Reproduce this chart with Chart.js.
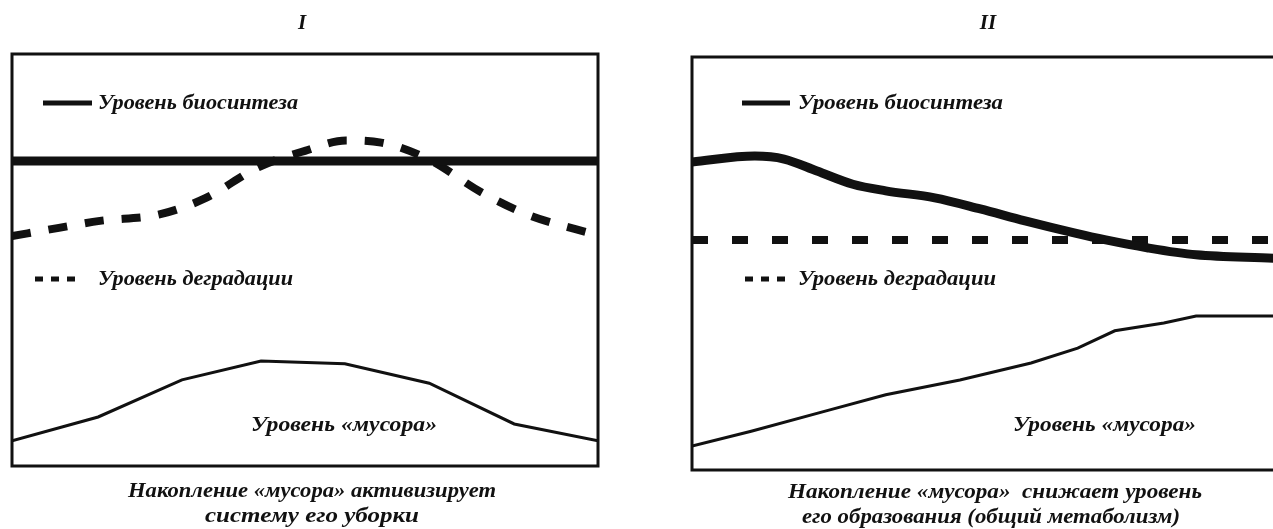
<!DOCTYPE html>
<html>
<head>
<meta charset="utf-8">
<script src="https://cdn.jsdelivr.net/npm/chart.js@4.4.0/dist/chart.umd.min.js"></script>
<style>
html, body { margin: 0; padding: 0; background: #fff; overflow: hidden; width: 1273px; height: 529px; }
#p1 { position: absolute; left: 0; top: 0; }
#p2 { position: absolute; left: 633px; top: 0; }
</style>
</head>
<body>
<canvas id="p1" width="640" height="529"></canvas>
<canvas id="p2" width="700" height="529"></canvas>
<script>
// Панель I
var bio1X = [0, 100];
var bio1Y = [74, 74];
var deg1X = [0, 8, 15, 25, 33, 42, 50, 57, 63, 71, 80, 88, 100];
var deg1Y = [55.8, 57.8, 59.5, 61, 65, 72.5, 76.5, 79, 78.5, 74.5, 66.5, 61, 56];
var trash1X = [0, 14.7, 29, 42.5, 56.8, 71.2, 85.7, 100];
var trash1Y = [6.1, 11.9, 20.9, 25.5, 24.8, 20.1, 10.2, 6.1];

// Панель II
var bio2X = [0, 10.5, 15.4, 20.9, 26.9, 32.4, 40.6, 48.2, 55.7, 63.9, 69.2, 76.1, 84.3, 97.2, 100];
var bio2Y = [74.6, 76.0, 75.3, 72.4, 69.2, 67.6, 65.9, 63.2, 60.3, 57.4, 55.7, 53.8, 52.1, 51.3, 51.1];
var deg2X = [0, 100];
var deg2Y = [55.7, 55.7];
var trash2X = [0, 9.9, 22.9, 32.4, 44.8, 56.7, 64.5, 70.7, 78.9, 84.3, 100];
var trash2Y = [5.8, 9.4, 14.5, 18.2, 21.8, 25.9, 29.5, 33.7, 35.6, 37.3, 37.3];

var labelBio = 'Уровень биосинтеза';
var labelDeg = 'Уровень деградации';
var labelTrash = 'Уровень «мусора»';

function pts(xs, ys) {
    return xs.map(function(x, i) { return { x: x, y: ys[i] }; });
}

var ink = '#111';
var fnt = 'italic bold 20px "Liberation Serif", "DejaVu Serif", serif';

// текст, растянутый по ширине (шрифт оригинала шире)
function fit(ctx, text, x, y, w, align) {
    var sx = w / ctx.measureText(text).width;
    ctx.save();
    ctx.translate(x, y);
    ctx.scale(sx, 1);
    ctx.textAlign = align;
    ctx.fillText(text, 0, 0);
    ctx.restore();
}

// рамка, легенда и подписи внутри панели
var decor = {
    id: 'decor',
    beforeDatasetsDraw: function(chart) {
        var ctx = chart.ctx, a = chart.chartArea;
        ctx.save();
        ctx.strokeStyle = ink;
        ctx.lineWidth = 3;
        ctx.strokeRect(a.left, a.top, a.right - a.left, a.bottom - a.top);
        ctx.restore();
    },
    afterDraw: function(chart, args, o) {
        var ctx = chart.ctx, a = chart.chartArea;
        var off = chart.canvas.offsetLeft;
        ctx.save();
        ctx.fillStyle = ink;
        ctx.strokeStyle = ink;
        ctx.textBaseline = 'middle';

        // номер панели
        ctx.textAlign = 'center';
        ctx.font = 'italic bold 21px "Liberation Serif", serif';
        ctx.fillText(o.title[0], o.title[1] - off, 24);

        ctx.font = fnt;
        // подпись снизу
        o.caption.forEach(function(c) {
            fit(ctx, c[0], c[1] - off, c[2], c[3], 'center');
        });

        // легенда
        ctx.lineWidth = 5;
        ctx.beginPath();
        ctx.moveTo(o.leg1[0] - off, o.leg1[2]);
        ctx.lineTo(o.leg1[1] - off, o.leg1[2]);
        ctx.stroke();
        fit(ctx, labelBio, o.legText[0] - off, o.leg1[2] + 1, o.legText[1], 'left');

        ctx.setLineDash([8, 8]);
        ctx.beginPath();
        ctx.moveTo(o.leg2[0] - off, o.leg2[2]);
        ctx.lineTo(o.leg2[1] - off, o.leg2[2]);
        ctx.stroke();
        ctx.setLineDash([]);
        fit(ctx, labelDeg, o.legText[0] - off, o.leg2[2] + 1, o.legText[2], 'left');

        fit(ctx, labelTrash, o.trash[0] - off, o.trash[1], o.trash[2], 'left');
        ctx.restore();
    }
};

function makePanel(id, pad, decorOpts, bio, deg, trash, bioSmooth, degSmooth, dash) {
    return new Chart(document.getElementById(id), {
        type: 'line',
        data: {
            datasets: [
                {
                    label: labelBio,
                    data: bio,
                    borderColor: ink,
                    borderWidth: 9,
                    pointRadius: 0,
                    cubicInterpolationMode: bioSmooth ? 'monotone' : 'default',
                    tension: 0,
                    borderCapStyle: 'round'
                },
                {
                    label: labelDeg,
                    data: deg,
                    borderColor: ink,
                    borderWidth: 8,
                    borderDash: dash,
                    pointRadius: 0,
                    cubicInterpolationMode: degSmooth ? 'monotone' : 'default',
                    tension: 0
                },
                {
                    label: labelTrash,
                    data: trash,
                    borderColor: ink,
                    borderWidth: 3,
                    pointRadius: 0,
                    tension: 0
                }
            ]
        },
        options: {
            responsive: false,
            animation: false,
            layout: { padding: pad },
            scales: {
                x: { type: 'linear', min: 0, max: 100, display: false },
                y: { min: 0, max: 100, display: false }
            },
            plugins: {
                legend: { display: false },
                tooltip: { enabled: false },
                decor: decorOpts
            }
        },
        plugins: [decor]
    });
}

// позиции текстов даны в пикселях страницы
makePanel('p1', { left: 12, top: 54, right: 42, bottom: 63 }, {
    title: ['I', 302],
    caption: [['Накопление «мусора» активизирует', 312, 492, 368],
              ['систему его уборки', 312, 517, 214]],
    leg1: [43, 92, 103],
    leg2: [35, 79, 279],
    legText: [98, 200, 195],
    trash: [251, 426, 186]
}, pts(bio1X, bio1Y), pts(deg1X, deg1Y), pts(trash1X, trash1Y), false, true, [19, 18]);

makePanel('p2', { left: 59, top: 57, right: 43, bottom: 59 }, {
    title: ['II', 988],
    caption: [['Накопление «мусора»  снижает уровень', 995, 493, 414],
              ['его образования (общий метаболизм)', 991, 518, 378]],
    leg1: [742, 790, 103],
    leg2: [745, 789, 279],
    legText: [798, 205, 198],
    trash: [1013, 426, 183]
}, pts(bio2X, bio2Y), pts(deg2X, deg2Y), pts(trash2X, trash2Y), true, false, [16, 24]);
</script>
</body>
</html>
